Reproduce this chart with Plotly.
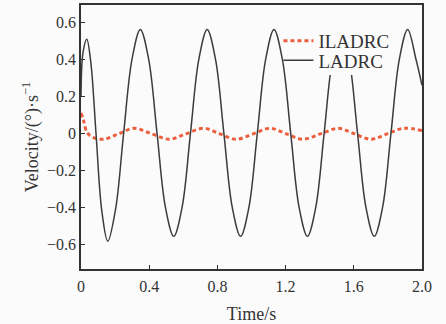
import plotly.graph_objects as go

# LADRC (black solid)
T_LADRC = [0, 0.012, 0.034, 0.058, 0.088, 0.122, 0.157, 0.203, 0.25, 0.299,
           0.348, 0.397, 0.446, 0.495, 0.544, 0.593, 0.642, 0.691, 0.740, 0.789,
           0.838, 0.887, 0.936, 0.985, 1.034, 1.083, 1.132, 1.181, 1.230, 1.279,
           1.328, 1.377, 1.426, 1.475, 1.524, 1.573, 1.622, 1.671, 1.720, 1.769,
           1.818, 1.867, 1.916, 1.965, 2.0]
V_LADRC = [0.20, 0.44, 0.51, 0.38, 0.0, -0.42, -0.585, -0.41, 0.0, 0.40,
           0.562, 0.40, 0.0, -0.40, -0.558, -0.40, 0.0, 0.40, 0.562, 0.40,
           0.0, -0.40, -0.558, -0.40, 0.0, 0.40, 0.562, 0.40, 0.0, -0.40,
           -0.558, -0.40, 0.0, 0.40, 0.562, 0.40, 0.0, -0.40, -0.558, -0.40,
           0.0, 0.40, 0.562, 0.40, 0.26]

# ILADRC (red dotted)
T_ILADRC = [0, 0.015, 0.035, 0.07, 0.134, 0.22, 0.31, 0.415, 0.517, 0.615,
            0.72, 0.815, 0.91, 1.01, 1.11, 1.205, 1.30, 1.405, 1.51, 1.605,
            1.70, 1.795, 1.89, 2.0]
V_ILADRC = [0.11, 0.07, 0.005, -0.022, -0.032, -0.003, 0.027, -0.003, -0.032, -0.003,
            0.027, -0.003, -0.032, -0.003, 0.027, -0.003, -0.032, -0.003, 0.027, -0.003,
            -0.032, -0.003, 0.027, 0.015]

X_TICKS = [0, 0.4, 0.8, 1.2, 1.6, 2.0]
X_TICK_LABELS = ["0", "0.4", "0.8", "1.2", "1.6", "2.0"]
Y_TICKS = [-0.6, -0.4, -0.2, 0, 0.2, 0.4, 0.6]
Y_TICK_LABELS = ["\u22120.6", "\u22120.4", "\u22120.2", "0", "0.2", "0.4", "0.6"]

SERIF = "Liberation Serif, Times New Roman, serif"
BG = "#fbfbfb"
AX = "#333333"
TXT = "#333333"

fig = go.Figure()
fig.add_trace(go.Scatter(
    x=T_ILADRC, y=V_ILADRC, name="ILADRC", mode="lines", legend="legend",
    line=dict(color="#ec5f3e", width=3, dash="4px,3px", shape="spline", smoothing=1.0),
))
fig.add_trace(go.Scatter(
    x=T_LADRC, y=V_LADRC, name="LADRC", mode="lines", legend="legend2",
    line=dict(color="#3c3c3c", width=1.5, shape="spline", smoothing=1.0),
))

# legend backdrop hiding the curves behind the legend text
fig.add_shape(type="rect", xref="paper", yref="paper",
              x0=0.628, x1=0.922, y0=0.735, y1=0.913,
              fillcolor=BG, line=dict(width=0), layer="above")

leg_common = dict(xanchor="left", yanchor="middle", bgcolor="rgba(0,0,0,0)",
                  borderwidth=0, itemwidth=30,
                  font=dict(family=SERIF, size=19, color=TXT))

fig.update_layout(
    width=446, height=324,
    margin=dict(l=81, r=24, t=5, b=55, autoexpand=False),
    paper_bgcolor=BG, plot_bgcolor=BG,
    font=dict(family=SERIF, size=16, color=TXT),
    showlegend=True,
    legend=dict(x=0.579, y=0.864, **leg_common),
    legend2=dict(x=0.579, y=0.790, **leg_common),
)
fig.update_xaxes(
    range=[0, 2.0], tickvals=X_TICKS, ticktext=X_TICK_LABELS, automargin=False,
    ticks="inside", ticklen=4, tickwidth=1, tickcolor=AX,
    showline=True, linecolor=AX, linewidth=1.5, mirror=True,
    showgrid=False, zeroline=False, ticklabelstandoff=2,
    tickfont=dict(family=SERIF, size=16, color=TXT),
    title=dict(text="Time/s", font=dict(family=SERIF, size=18, color=TXT), standoff=18),
)
fig.update_yaxes(
    range=[-0.735, 0.695], tickvals=Y_TICKS, ticktext=Y_TICK_LABELS, automargin=False,
    ticks="inside", ticklen=4, tickwidth=1, tickcolor=AX,
    showline=True, linecolor=AX, linewidth=1.5, mirror=True,
    showgrid=False, zeroline=False, ticklabelstandoff=0,
    tickfont=dict(family=SERIF, size=16, color=TXT),
    title=dict(text="Velocity/(\u00b0)\u00b7s<sup>\u22121</sup>",
               font=dict(family=SERIF, size=18, color=TXT), standoff=4),
)

fig.write_html("out.html", config={"displayModeBar": False},
               post_script="document.body.style.margin='0px';")
